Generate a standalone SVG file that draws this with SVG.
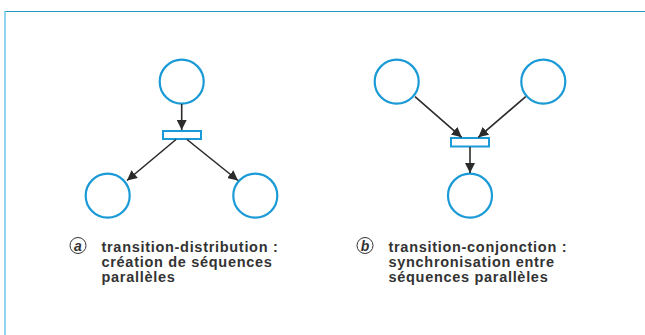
<svg xmlns="http://www.w3.org/2000/svg" width="645" height="335" viewBox="0 0 645 335">
<defs>
<marker id="ah" viewBox="0 0 10 10" refX="10" refY="5" markerWidth="10" markerHeight="10" markerUnits="userSpaceOnUse" orient="auto">
<path d="M0,0 L10,5 L0,10 Z" fill="#2b2b2b"/>
</marker>
</defs>
<style>
.place{fill:#fff;stroke:#1a9ad6;stroke-width:2.2}
.trans{fill:#fff;stroke:#1a9ad6;stroke-width:2}
.arc{stroke:#2b2b2b;stroke-width:1.6;fill:none;marker-end:url(#ah)}
.lbl{font-family:"Liberation Sans",Arial,sans-serif;font-weight:bold;font-size:14.5px;letter-spacing:0.7px;fill:#333}
.tag{font-family:"Liberation Sans",Arial,sans-serif;font-weight:bold;font-style:italic;font-size:14px;fill:#333}
.tagc{fill:none;stroke:#333;stroke-width:1}
</style>
<rect width="645" height="335" fill="#fff"/>
<g id="frame">
<line x1="5" y1="11.5" x2="645" y2="11.5" stroke="#2596c8" stroke-width="1.2"/>
<line x1="5" y1="11" x2="5" y2="335" stroke="#62c3e8" stroke-width="1.4"/>
</g>
<g id="a-p1"><circle class="place" cx="181.7" cy="81.7" r="22"/></g>
<g id="a-t"><rect class="trans" x="163" y="131" width="38" height="8"/></g>
<g id="a-p2"><circle class="place" cx="107.7" cy="195.7" r="22"/></g>
<g id="a-p3"><circle class="place" cx="255.3" cy="195.7" r="22"/></g>
<g id="b-p1"><circle class="place" cx="396.7" cy="81.7" r="22"/></g>
<g id="b-p2"><circle class="place" cx="543.3" cy="81.7" r="22"/></g>
<g id="b-t"><rect class="trans" x="451" y="138" width="38" height="8.5"/></g>
<g id="b-p3"><circle class="place" cx="470" cy="195.7" r="22"/></g>
<g id="connectors">
<line class="arc" x1="181.7" y1="104" x2="181.7" y2="130"/>
<line class="arc" x1="176" y1="139.5" x2="127" y2="180.5"/>
<line class="arc" x1="187" y1="139.5" x2="238" y2="180.5"/>
<line class="arc" x1="415" y1="96.7" x2="461.7" y2="137.3"/>
<line class="arc" x1="525.7" y1="96.7" x2="478.3" y2="137.3"/>
<line class="arc" x1="470" y1="147" x2="470" y2="173"/>
</g>
<g id="caption-a">
<circle class="tagc" cx="78" cy="245.5" r="8"/>
<text class="tag" x="78" y="250.5" text-anchor="middle">a</text>
<text class="lbl" x="101.5" y="252">transition-distribution :</text>
<text class="lbl" x="101.5" y="267">création de séquences</text>
<text class="lbl" x="101.5" y="282">parallèles</text>
</g>
<g id="caption-b">
<circle class="tagc" cx="365" cy="245.5" r="8"/>
<text class="tag" x="365" y="250.5" text-anchor="middle">b</text>
<text class="lbl" x="388.5" y="252">transition-conjonction :</text>
<text class="lbl" x="388.5" y="267">synchronisation entre</text>
<text class="lbl" x="388.5" y="282">séquences parallèles</text>
</g>
</svg>
